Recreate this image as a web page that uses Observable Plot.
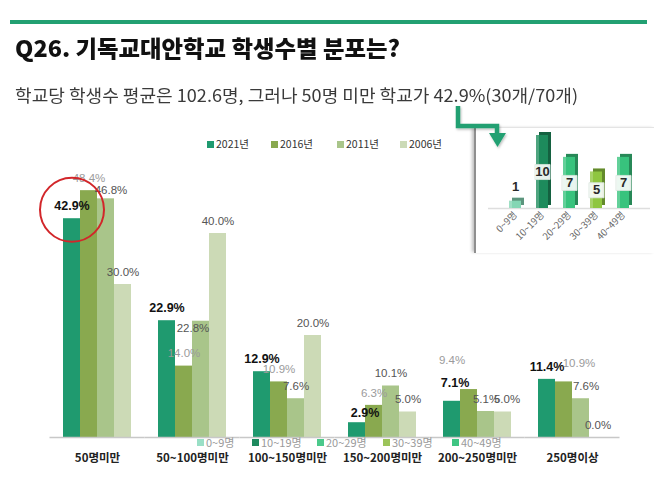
<!DOCTYPE html>
<html><head><meta charset="utf-8">
<script src="https://cdn.jsdelivr.net/npm/d3@7"></script>
<script src="https://cdn.jsdelivr.net/npm/@observablehq/plot@0.6"></script>
<style>
body{margin:0;background:#fff;}
#page{position:relative;width:654px;height:486px;overflow:hidden;font-family:"Noto Sans CJK KR","Noto Sans",sans-serif;background:#fff;}
.abs{position:absolute;}
.fit{white-space:nowrap;display:inline-block;transform-origin:0 0;line-height:1;}
#topline{left:10px;top:20px;width:637px;height:4px;background:#22a072;}
#title{left:15px;top:36px;font-size:23px;font-weight:900;color:#111;}
#subtitle{left:15px;top:86px;font-size:17px;font-weight:400;color:#3a3a3a;}
.leg{font-size:10.5px;color:#333;line-height:1;white-space:nowrap;}
.leg i{display:inline-block;width:7px;height:7px;margin-right:2px;vertical-align:0px;}
.leg2{font-size:11px;color:#9a9a9a;line-height:1;white-space:nowrap;}
.leg2 i{display:inline-block;width:7px;height:7px;margin-right:2px;vertical-align:1px;}
#insetbox{left:474px;top:127px;width:180px;height:125px;background:#fff;border-top:1px solid #e4e4e4;border-left:2px solid #8f8f8f;box-shadow:-3px 0 3px -1px rgba(0,0,0,0.25);}
</style></head><body><div id="page"></div>
<script>
// ---------- data ----------
const categories = ["50명미만","50~100명미만","100~150명미만","150~200명미만","200~250명미만","250명이상"];
const years = ["2021년","2016년","2011년","2006년"];
const v2021 = [42.9, 22.9, 12.9, 2.9, 7.1, 11.4];
const v2016 = [48.4, 14.0, 10.9, 6.3, 9.4, 10.9];
const v2011 = [46.8, 22.8, 7.6, 10.1, 5.1, 7.6];
const v2006 = [30.0, 40.0, 20.0, 5.0, 5.0, 0.0];
const insetCats = ["0~9명","10~19명","20~29명","30~39명","40~49명"];
const insetCounts = [1, 10, 7, 5, 7];

const titleText = "Q26. 기독교대안학교 학생수별 분포는?";
const subtitleText = "학교당 학생수 평균은 102.6명, 그러나 50명 미만 학교가 42.9%(30개/70개)";

// ---------- styles ----------
const barColors = ["#1f9a6f", "#89a94f", "#a9c58a", "#ccdab6"];
const insetColors = ["#84d6b4", "#1d8b5c", "#38c37d", "#8fc640", "#38c37d"];
const insetLegendColors = ["#9adfc6", "#1d8a5e", "#4bc98b", "#9cc45a", "#3fc583"];

const series = [v2021, v2016, v2011, v2006];
const rows = [];
categories.forEach((c, i) => years.forEach((y, j) => rows.push({category: c, year: y, value: series[j][i]})));
const insetRows = insetCats.map((c, i) => ({cat: c, count: insetCounts[i]}));

const page = document.getElementById("page");

// label nudges for the overlapping labels of the original
const labelNudge = [
  {category: "50명미만", year: "2011년", dx: 5, dy: -9},
  {category: "50~100명미만", year: "2011년", dx: -8, dy: 7},
  {category: "150~200명미만", year: "2021년", dx: 8, dy: -10},
  {category: "200~250명미만", year: "2021년", dx: 3, dy: -18},
  {category: "200~250명미만", year: "2016년", dx: -17, dy: -29},
  {category: "200~250명미만", year: "2006년", dx: 4, dy: -12.5},
  {category: "250명이상", year: "2016년", dx: 15, dy: -19},
  {category: "250명이상", year: "2011년", dx: 5, dy: -12.5}
];
const isNudged = d => labelNudge.some(n => n.category === d.category && n.year === d.year);
const fmt = d => d.value.toFixed(1) + "%";

function labelMarks(data, dx, dy) {
  return [
    Plot.text(data.filter(d => d.year === years[0]), {fx: "category", x: "year", y: "value", text: fmt, dx, dy,
      fontSize: 12.5, fontWeight: "bold", fill: "#111", fontFamily: "Liberation Sans, Arial, sans-serif"}),
    Plot.text(data.filter(d => d.year === years[1]), {fx: "category", x: "year", y: "value", text: fmt, dx, dy,
      fontSize: 11.5, fill: "#9b9b9b", fontFamily: "Liberation Sans, Arial, sans-serif"}),
    Plot.text(data.filter(d => d.year === years[2] || d.year === years[3]), {fx: "category", x: "year", y: "value", text: fmt, dx, dy,
      fontSize: 11.5, fill: "#555555", fontFamily: "Liberation Sans, Arial, sans-serif"})
  ];
}

const main = Plot.plot({
  width: 654, height: 486,
  marginTop: 182, marginBottom: 49, marginLeft: 47, marginRight: 32,
  style: {background: "transparent", overflow: "visible"},
  fx: {domain: categories, paddingInner: 0.28, paddingOuter: 0.14, label: null},
  x: {domain: years, padding: 0, axis: null},
  y: {domain: [0, 50], axis: null},
  color: {domain: years, range: barColors},
  marks: [
    Plot.barY(rows, {fx: "category", x: "year", y: "value", fill: "year"}),
    Plot.ruleY([0], {stroke: "#c8c8c8", strokeWidth: 1.5, insetLeft: -13.5, insetRight: -13.5}),
    ...labelMarks(rows.filter(d => !isNudged(d)), 0, -12.5),
    ...labelNudge.flatMap(n => labelMarks(rows.filter(d => d.category === n.category && d.year === n.year), n.dx, n.dy)),
    Plot.dot(rows.filter(d => d.category === categories[0] && d.year === years[0]),
      {fx: "category", x: "year", y: "value", r: 32, stroke: "#d2262a", strokeWidth: 2, fill: "none", dy: -9}),
    Plot.axisFx({anchor: "bottom", tickSize: 0, tickPadding: 16, fontSize: 11.5, fontWeight: "bold", fill: "#222",
      fontFamily: "Noto Sans CJK KR, sans-serif", label: null})
  ]
});
main.classList.add("abs");
main.style.left = "0px"; main.style.top = "0px";
page.appendChild(main);

// ---------- header ----------
function addDiv(id, cls, html) {
  const el = document.createElement("div");
  if (id) el.id = id;
  el.className = cls;
  el.innerHTML = html;
  page.appendChild(el);
  return el;
}
addDiv("topline", "abs", "");
const t = addDiv("title", "abs fit", "");
t.textContent = titleText;
const s = addDiv("subtitle", "abs fit", "");
s.textContent = subtitleText;
function fit(el, w) {
  const r = el.getBoundingClientRect().width;
  el.style.transform = `scaleX(${w / r})`;
}
fit(t, 385);
fit(s, 563);

// ---------- main legend ----------
const legX = [207, 271, 337, 400];
years.forEach((y, i) => {
  const el = addDiv(null, "abs leg", `<i style="background:${barColors[i]}"></i>${y}`);
  el.style.left = legX[i] + "px";
  el.style.top = "139px";
});

// ---------- inset ----------
addDiv("insetbox", "abs", "");
const inset = Plot.plot({
  width: 178, height: 124,
  marginTop: 7, marginBottom: 44, marginLeft: 18, marginRight: 10,
  style: {background: "transparent", overflow: "visible"},
  x: {domain: insetCats, padding: 0.55, label: null},
  y: {domain: [0, 10], axis: null},
  color: {domain: insetCats, range: insetColors},
  marks: [
    Plot.ruleY([0], {stroke: "#dedede", strokeWidth: 1.5, insetLeft: -6, insetRight: -6}),
    Plot.barY(insetRows, {x: "cat", y: "count", fill: "cat", dx: 3, dy: -3}),
    Plot.barY(insetRows, {x: "cat", y: "count", fill: "#000", fillOpacity: 0.3, dx: 3, dy: -3}),
    Plot.barY(insetRows, {x: "cat", y: "count", fill: "cat"}),
    Plot.barY(insetRows, {x: "cat", y: "count", fill: "#fff", fillOpacity: 0.22, insetRight: 9}),
    Plot.dot(insetRows.filter(d => d.count >= 3), {x: "cat", y: d => d.count / 2, symbol: "square", r: 8.5,
      fill: "#f7fbf8", fillOpacity: 0.92, stroke: "#d9e6dd", strokeWidth: 0.8}),
    Plot.text(insetRows.filter(d => d.count >= 3), {x: "cat", y: d => d.count / 2, text: d => String(d.count),
      fontSize: 13, fontWeight: "bold", fill: "#2a2a2a", fontFamily: "Liberation Sans, Arial, sans-serif"}),
    Plot.text(insetRows.filter(d => d.count < 3), {x: "cat", y: "count", text: d => String(d.count), dy: -14,
      fontSize: 13, fontWeight: "bold", fill: "#2a2a2a", fontFamily: "Liberation Sans, Arial, sans-serif"}),
    Plot.axisX({tickRotate: -45, tickSize: 0, tickPadding: 5, fontSize: 9.5, fill: "#666",
      fontFamily: "Noto Sans CJK KR, sans-serif", label: null})
  ]
});
inset.classList.add("abs");
inset.style.left = "476px"; inset.style.top = "128px";
page.appendChild(inset);

// ---------- arrow (on top of the inset box) ----------
const arrow = document.createElementNS("http://www.w3.org/2000/svg", "svg");
arrow.setAttribute("width", "654"); arrow.setAttribute("height", "486");
arrow.setAttribute("class", "abs");
arrow.style.left = "0px"; arrow.style.top = "0px"; arrow.style.pointerEvents = "none";
arrow.innerHTML = `<defs><filter id="sh" x="-20%" y="-20%" width="150%" height="150%"><feDropShadow dx="1" dy="1.5" stdDeviation="1" flood-color="#000" flood-opacity="0.25"/></filter></defs>
<g filter="url(#sh)" fill="none" stroke="#22a072" stroke-width="4.5" stroke-linejoin="miter">
<path d="M458,106 V126 H497 V134"/></g>
<path d="M489,133 L506,133 L497.5,147 Z" fill="#22a072" filter="url(#sh)"/>`;
page.appendChild(arrow);

// ---------- inset legend (bottom) ----------
const leg2X = [197, 252, 317, 383, 452];
insetCats.forEach((c, i) => {
  const el = addDiv(null, "abs leg2", `<i style="background:${insetLegendColors[i]}"></i>${c}`);
  el.style.left = leg2X[i] + "px";
  el.style.top = "437px";
});
</script></body></html>
